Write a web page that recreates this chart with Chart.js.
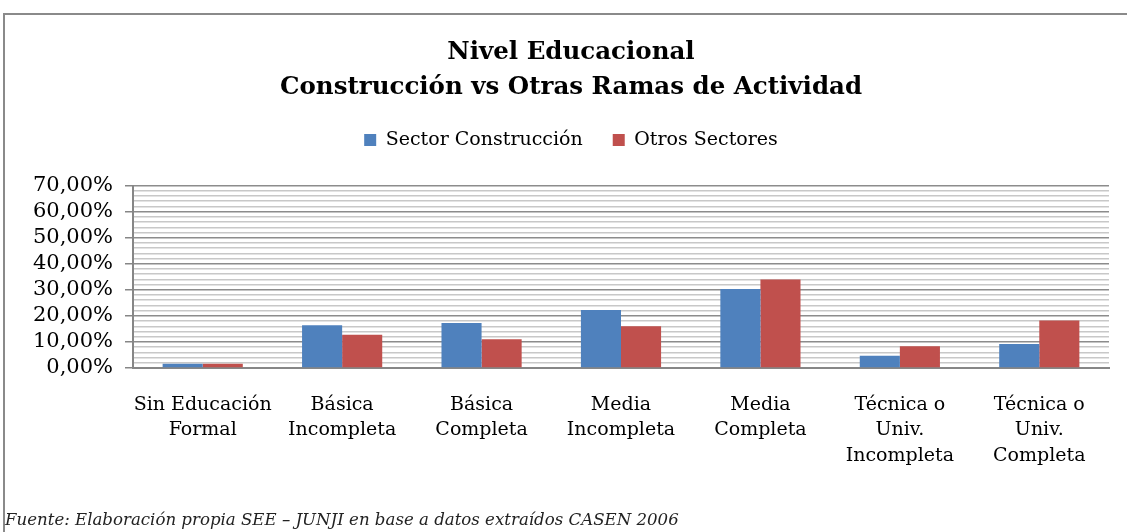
<!DOCTYPE html>
<html>
<head>
<meta charset="utf-8">
<script src="https://cdn.jsdelivr.net/npm/chart.js@4.4.0/dist/chart.umd.min.js"></script>
<style>
  html, body { margin: 0; padding: 0; background: #fff; }
  #wrap { position: relative; width: 1127px; height: 532px; overflow: hidden; }
  #frame { position: absolute; left: 3px; top: 13px; width: 1140px; height: 540px;
           border-left: 2px solid #8a8a8a; border-top: 2px solid #8a8a8a; box-sizing: border-box; }
  #c { position: absolute; left: 0; top: 0; }
  #caption { position: absolute; left: 5px; top: 510px; font-family: "DejaVu Serif"; font-style: italic;
             font-size: 16.6px; color: #222; white-space: nowrap; }
</style>
</head>
<body>
<div id="wrap">
  <div id="frame"></div>
  <canvas id="c" width="1127" height="532"></canvas>
  <div id="caption">Fuente: Elaboración propia SEE – JUNJI en base a datos extraídos CASEN 2006</div>
</div>
<script>
const titleLines = ["Nivel Educacional", "Construcción vs Otras Ramas de Actividad"];
const categories = [
  ["Sin Educación", "Formal"],
  ["Básica", "Incompleta"],
  ["Básica", "Completa"],
  ["Media", "Incompleta"],
  ["Media", "Completa"],
  ["Técnica o", "Univ.", "Incompleta"],
  ["Técnica o", "Univ.", "Completa"]
];
const seriesNames = ["Sector Construcción", "Otros Sectores"];
const construccion = [1.6, 16.4, 17.3, 22.3, 30.3, 4.7, 9.2];
const otros = [1.6, 12.8, 11.0, 16.0, 34.0, 8.3, 18.2];
const yMax = 70;
const yMajorStep = 10;
const yMinorStep = 2;

const legendSpace = {
  id: 'legendSpace',
  beforeInit(chart) {
    const orig = chart.legend.fit;
    chart.legend.fit = function () { orig.call(this); this.height += 26; };
  }
};

const isMajor = v => Math.abs(v / yMajorStep - Math.round(v / yMajorStep)) < 1e-6;

new Chart(document.getElementById('c'), {
  type: 'bar',
  data: {
    labels: categories,
    datasets: [
      { label: seriesNames[0], data: construccion, backgroundColor: '#4f81bd', borderWidth: 0,
        categoryPercentage: 0.575, barPercentage: 1.0 },
      { label: seriesNames[1], data: otros, backgroundColor: '#c0504d', borderWidth: 0,
        categoryPercentage: 0.575, barPercentage: 1.0 }
    ]
  },
  options: {
    responsive: false,
    animation: false,
    layout: { padding: { left: 33, right: 18, top: 0, bottom: 0 } },
    plugins: {
      title: {
        display: true,
        text: titleLines,
        color: '#000',
        font: { family: 'DejaVu Serif', size: 24.5, weight: 'bold', lineHeight: 1.44 },
        padding: { top: 35, bottom: -5 }
      },
      legend: {
        display: true,
        position: 'top',
        labels: {
          color: '#000',
          font: { family: 'DejaVu Serif', size: 19 },
          boxWidth: 12, boxHeight: 12, padding: 30
        }
      },
      tooltip: { enabled: false }
    },
    scales: {
      x: {
        grid: { display: false },
        border: { display: true, color: '#868686', width: 2 },
        ticks: {
          color: '#000',
          font: { family: 'DejaVu Serif', size: 19, lineHeight: 1.35 },
          maxRotation: 0, minRotation: 0, autoSkip: false, padding: 16
        },
        afterFit(scale) { scale.height = 532 - 368; }
      },
      y: {
        min: 0, max: yMax,
        grid: {
          color: ctx => isMajor(ctx.tick.value) ? '#8c8c8c' : '#c8c8c8',
          lineWidth: 1.5,
          tickColor: ctx => isMajor(ctx.tick.value) ? '#868686' : 'rgba(0,0,0,0)',
          tickLength: 8
        },
        border: { display: true, color: '#868686', width: 2 },
        ticks: {
          stepSize: yMinorStep,
          autoSkip: false,
          color: '#000',
          padding: 12,
          font: { family: 'DejaVu Serif', size: 21 },
          callback: v => isMajor(v) ? v.toFixed(2).replace('.', ',') + '%' : ''
        },
        afterFit(scale) { scale.width = 133 - 33; }
      }
    }
  },
  plugins: [legendSpace]
});
</script>
</body>
</html>
